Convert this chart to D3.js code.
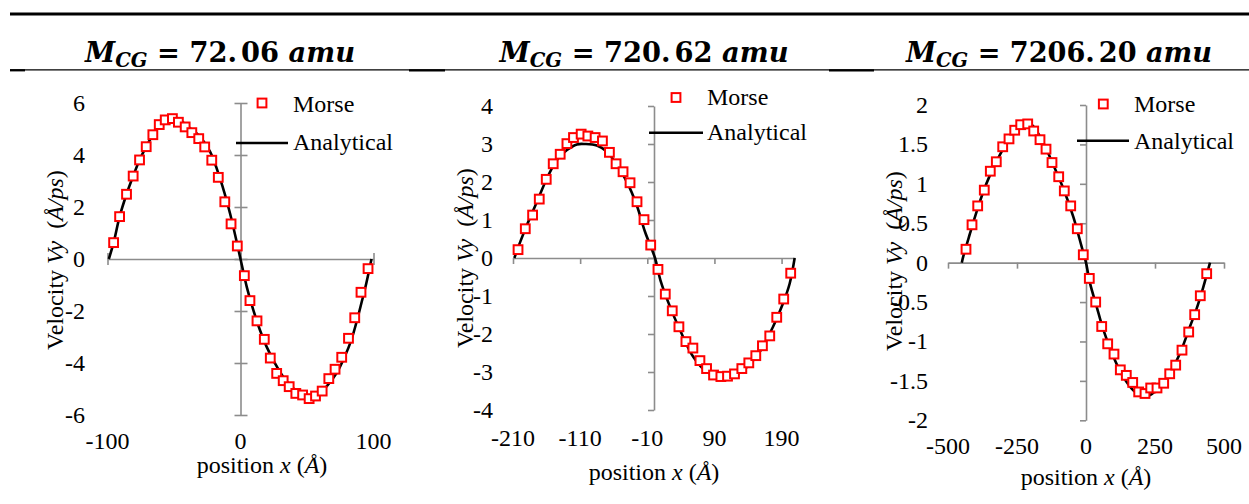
<!DOCTYPE html>
<html>
<head>
<meta charset="utf-8">
<script src="https://cdn.jsdelivr.net/npm/d3@7"></script>
<style>
  body { margin: 0; background: #fff; }
  svg { display: block; }
</style>
</head>
<body>
<svg id="chart" width="1249" height="504"></svg>
<script>
// ---- Panel titles (coarse-grained mass) ----
const massValues = ["72.06", "720.62", "7206.20"];

// ---- Panel 1: M_CG = 72.06 amu ----
const morseX1 = [-95.4,-90.9,-85.7,-80.7,-75.9,-70.9,-65.9,-61.1,-56.6,-51.2,-46.7,-41.6,-36.6,-31.4,-26.9,-21.6,-16.7,-11.8,-7.1,-2.4,2.9,7.1,12.4,17.9,22.4,27.2,32.1,36.6,41.6,46.7,51.6,56.4,61.4,66.4,71.1,76.1,81.2,85.9,90.6,95.9];
const morseY1 = [0.63,1.63,2.49,3.19,3.81,4.32,4.78,5.17,5.35,5.40,5.26,5.08,4.86,4.63,4.31,3.80,3.14,2.20,1.35,0.50,-0.64,-1.60,-2.38,-3.09,-3.81,-4.40,-4.68,-4.91,-5.17,-5.23,-5.37,-5.27,-5.08,-4.60,-4.24,-3.78,-3.05,-2.26,-1.28,-0.37];
const analyticX1 = [-99,-95.4,-90.9,-85.7,-80.7,-75.9,-70.9,-65.9,-61.1,-56.6,-51.2,-47.9,-37.9,-30.4,-22.9,-15.4,-7.9,0,4.7,9.6,14.6,19.6,25.9,32.1,39.6,47.1,52.1,57.1,64.6,72.1,78.3,83.3,88.3,92.1,94.6,98.5];
const analyticY1 = [0,0.63,1.63,2.49,3.19,3.81,4.32,4.78,5.17,5.35,5.40,5.41,5.03,4.70,4.13,3.10,1.76,0,-1.07,-1.96,-2.73,-3.37,-4.01,-4.53,-4.97,-5.23,-5.32,-5.23,-4.91,-4.40,-3.76,-3.12,-2.22,-1.45,-0.93,0];
const xTicks1 = [-100, 0, 100];
const xTickLabels1 = ["-100", "0", "100"];
const yTicks1 = [-6, -4, -2, 0, 2, 4, 6];
const yTickLabels1 = ["-6", "-4", "-2", "0", "2", "4", "6"];

// ---- Panel 2: M_CG = 720.62 amu ----
const morseX2 = [-202.5,-191.7,-180.8,-170.9,-160.5,-150.1,-139.7,-129.7,-119.9,-108.5,-98.5,-87.7,-76.8,-66.4,-56.5,-46.1,-35.7,-25.3,-14.9,-4.9,5.9,16.8,27.2,37.1,47.5,57.9,68.4,78.3,88.7,99.6,109.5,119.9,130.8,141.2,151.6,161.5,172.4,182.8,193.2,203.6];
const morseY2 = [0.22,0.77,1.13,1.55,2.07,2.48,2.73,3.01,3.17,3.26,3.21,3.17,3.08,2.78,2.48,2.27,1.98,1.48,1.01,0.34,-0.30,-0.95,-1.39,-1.81,-2.20,-2.37,-2.70,-2.91,-3.08,-3.12,-3.11,-3.05,-2.91,-2.76,-2.57,-2.31,-2.05,-1.56,-1.08,-0.40];
const analyticX2 = [-208,-199.1,-189.2,-174.3,-159.4,-144.6,-129.7,-114.9,-102.5,-85.1,-70.3,-55.4,-40.6,-25.7,-13.4,1.5,9.5,23.8,38.6,58.4,78.3,98.1,117.9,137.7,157.5,177.3,192.2,202.1,209.5];
const analyticY2 = [0,0.43,0.87,1.48,2.10,2.58,2.84,2.99,3.0,2.96,2.80,2.45,2.01,1.39,0.69,0,-0.58,-1.28,-1.89,-2.60,-2.99,-3.12,-3.10,-2.88,-2.47,-1.81,-1.19,-0.67,0];
const xTicks2 = [-210, -110, -10, 90, 190];
const xTickLabels2 = ["-210", "-110", "-10", "90", "190"];
const yTicks2 = [-4, -3, -2, -1, 0, 1, 2, 3, 4];
const yTickLabels2 = ["-4", "-3", "-2", "-1", "0", "1", "2", "3", "4"];

// ---- Panel 3: M_CG = 7206.20 amu ----
const morseX3 = [-434.8,-413.0,-392.4,-368.5,-346.7,-325.0,-301.8,-279.0,-258.3,-236.6,-211.2,-189.5,-166.7,-144.9,-123.2,-98.9,-78.6,-55.4,-31.5,-9.8,12.0,35.1,56.9,78.6,101.4,124.3,146.0,169.2,190.9,213.8,234.4,257.2,281.5,303.3,325.0,347.8,372.1,393.8,414.1,437.3];
const morseY3 = [0.17,0.48,0.72,0.92,1.16,1.28,1.47,1.57,1.68,1.75,1.76,1.67,1.56,1.44,1.27,1.09,0.91,0.72,0.43,0.10,-0.20,-0.50,-0.81,-1.03,-1.16,-1.36,-1.43,-1.52,-1.64,-1.66,-1.59,-1.59,-1.53,-1.41,-1.30,-1.11,-0.88,-0.66,-0.42,-0.14];
const analyticX3 = [-450,-444.6,-420.3,-396.0,-372.1,-347.8,-311.6,-275.4,-239.1,-214.9,-190.7,-154.5,-118.3,-82.1,-45.9,-15.6,0,14.5,38.8,62.7,98.9,135.1,171.4,207.6,231.9,268.1,304.3,340.6,376.8,401.1,425.0,449.3];
const analyticY3 = [0,0.08,0.37,0.65,0.90,1.11,1.37,1.58,1.73,1.79,1.73,1.52,1.24,0.94,0.58,0.20,0,-0.26,-0.56,-0.85,-1.19,-1.45,-1.62,-1.70,-1.68,-1.57,-1.40,-1.15,-0.81,-0.58,-0.31,0];
const xTicks3 = [-500, -250, 0, 250, 500];
const xTickLabels3 = ["-500", "-250", "0", "250", "500"];
const yTicks3 = [-2, -1.5, -1, -0.5, 0, 0.5, 1, 1.5, 2];
const yTickLabels3 = ["-2", "-1.5", "-1", "-0.5", "0", "0.5", "1", "1.5", "2"];

const legendLabels = ["Morse", "Analytical"];

// ---- layout of each panel ----
const panels = [
  { mass: massValues[0], titleX: 220, titleW: 266,
    mx: morseX1, my: morseY1, ax: analyticX1, ay: analyticY1,
    xTicks: xTicks1, xLabels: xTickLabels1, yTicks: yTicks1, yLabels: yTickLabels1,
    xDomain: [-100, 100], xRange: [107.5, 373.5], yDomain: [-6, 6], yRange: [415, 103],
    crossTicks: true, yLabelRight: 85, xLabelBase: 449,
    xTitle: [262, 473], yTitle: [63, 260],
    legMarker: [262, 103], legMorseBase: 111.5, legLine: [236, 288, 143], legAnaBase: 150, legTextX: 293 },
  { mass: massValues[1], titleX: 644, titleW: 285,
    mx: morseX2, my: morseY2, ax: analyticX2, ay: analyticY2,
    xTicks: xTicks2, xLabels: xTickLabels2, yTicks: yTicks2, yLabels: yTickLabels2,
    xDomain: [-210, 210], xRange: [513, 795], yDomain: [-4, 4], yRange: [410, 106],
    crossTicks: false, yLabelRight: 493, xLabelBase: 446,
    xTitle: [654, 480], yTitle: [473, 258],
    legMarker: [676, 97.5], legMorseBase: 105, legLine: [649, 703, 132.7], legAnaBase: 140, legTextX: 707 },
  { mass: massValues[2], titleX: 1059, titleW: 302,
    mx: morseX3, my: morseY3, ax: analyticX3, ay: analyticY3,
    xTicks: xTicks3, xLabels: xTickLabels3, yTicks: yTicks3, yLabels: yTickLabels3,
    xDomain: [-500, 500], xRange: [948, 1224], yDomain: [-2, 2], yRange: [420.3, 105],
    crossTicks: false, yLabelRight: 928, xLabelBase: 454,
    xTitle: [1086, 485], yTitle: [901.5, 261],
    legMarker: [1103.3, 104], legMorseBase: 111.5, legLine: [1077, 1129, 140.7], legAnaBase: 149, legTextX: 1134 }
];

const SERIF = "Liberation Serif, Tinos, Times New Roman, serif";
const MATH = "DejaVu Serif, Liberation Serif, serif";
const svg = d3.select("#chart").attr("font-family", SERIF);
const FS = 24;
const axisColor = "#8c8c8c";
const red = "#ff0000";

function label(x, y, size, family) {
  return svg.append("text").attr("x", x).attr("y", y)
    .attr("font-family", family || SERIF).attr("font-size", size).attr("fill", "#000");
}

// ---- table rules above and below the title row ----
svg.append("line").attr("x1", 10).attr("x2", 1249).attr("y1", 14).attr("y2", 14)
  .attr("stroke", "#000").attr("stroke-width", 3.2);
svg.append("line").attr("x1", 10).attr("x2", 1249).attr("y1", 69.8).attr("y2", 69.8)
  .attr("stroke", "#000").attr("stroke-width", 1.3);
[[10, 25], [409, 445], [829, 874]].forEach(([a, b]) => {
  svg.append("line").attr("x1", a).attr("x2", b).attr("y1", 70.3).attr("y2", 70.3)
    .attr("stroke", "#000").attr("stroke-width", 2.2);
});

panels.forEach(p => {
  const x = d3.scaleLinear().domain(p.xDomain).range(p.xRange);
  const y = d3.scaleLinear().domain(p.yDomain).range(p.yRange);
  const g = svg.append("g");

  // x axis along y = 0 (tick marks only)
  const xAxis = d3.axisBottom(x).tickValues(p.xTicks).tickFormat(() => "")
    .tickSizeInner(6).tickSizeOuter(0);
  const gx = g.append("g").attr("transform", `translate(0,${y(0)})`).call(xAxis);
  gx.select(".domain").attr("stroke", axisColor).attr("stroke-width", 1.6);
  gx.selectAll(".tick line").attr("stroke", axisColor).attr("stroke-width", 1.6)
    .attr("y1", p.crossTicks ? -6 : 0);
  gx.selectAll(".tick text").remove();

  // y axis along x = 0 (tick marks only)
  const yAxis = d3.axisLeft(y).tickValues(p.yTicks).tickFormat(() => "")
    .tickSizeInner(6).tickSizeOuter(0);
  const gy = g.append("g").attr("transform", `translate(${x(0)},0)`).call(yAxis);
  gy.select(".domain").attr("stroke", axisColor).attr("stroke-width", 1.6);
  gy.selectAll(".tick line").attr("stroke", axisColor).attr("stroke-width", 1.6)
    .attr("x1", p.crossTicks ? 7 : 0);
  gy.selectAll(".tick text").remove();

  // analytical solution
  const pts = p.ax.map((v, i) => [v, p.ay[i]]);
  g.append("path").datum(pts)
    .attr("fill", "none").attr("stroke", "#000").attr("stroke-width", 2.6)
    .attr("d", d3.line().x(d => x(d[0])).y(d => y(d[1])).curve(d3.curveCatmullRom.alpha(0.5)));

  // Morse potential results
  const ms = p.mx.map((v, i) => [v, p.my[i]]);
  g.selectAll(".m").data(ms).join("rect")
    .attr("x", d => x(d[0]) - 4.4).attr("y", d => y(d[1]) - 4.4)
    .attr("width", 8.8).attr("height", 8.8)
    .attr("fill", "#fff").attr("stroke", red).attr("stroke-width", 2);

  // legend symbols
  g.append("rect").attr("x", p.legMarker[0] - 4.4).attr("y", p.legMarker[1] - 4.4)
    .attr("width", 8.8).attr("height", 8.8)
    .attr("fill", "#fff").attr("stroke", red).attr("stroke-width", 2);
  g.append("line").attr("x1", p.legLine[0]).attr("x2", p.legLine[1])
    .attr("y1", p.legLine[2]).attr("y2", p.legLine[2])
    .attr("stroke", "#000").attr("stroke-width", 2.6);

  // title: M_CG = value amu, sized to span its column
  const t = label(p.titleX, 62, 26, MATH).attr("text-anchor", "middle").attr("font-weight", "bold");
  t.append("tspan").attr("font-style", "italic").text("M");
  t.append("tspan").attr("font-style", "italic").attr("font-size", "0.72em").attr("dy", "0.24em").text("CG");
  t.append("tspan").attr("dy", "-0.173em").text(" = ");
  const parts = p.mass.split(".");
  t.append("tspan").text(parts[0] + ".");
  t.append("tspan").attr("dx", "0.15em").text(parts[1] + " ");
  t.append("tspan").attr("font-style", "italic").text("amu");
  const w = t.node().getComputedTextLength();
  if (w > 0) t.attr("font-size", 26 * p.titleW / w);

  // tick labels sit at the low edge of the plot
  p.xTicks.forEach((d, i) => {
    label(x(d), p.xLabelBase, FS).attr("text-anchor", "middle").text(p.xLabels[i]);
  });
  p.yTicks.forEach((d, i) => {
    label(p.yLabelRight, y(d) + 8, FS).attr("text-anchor", "end").text(p.yLabels[i]);
  });

  // axis titles
  const xt = label(p.xTitle[0], p.xTitle[1], FS).attr("text-anchor", "middle");
  xt.append("tspan").text("position ");
  xt.append("tspan").attr("font-style", "italic").text("x");
  xt.append("tspan").text(" (");
  xt.append("tspan").attr("font-style", "italic").text("Å");
  xt.append("tspan").text(")");

  const yt = label(0, 0, FS)
    .attr("transform", `translate(${p.yTitle[0]},${p.yTitle[1]}) rotate(-90)`)
    .attr("text-anchor", "middle");
  yt.append("tspan").text("Velocity ");
  yt.append("tspan").attr("font-style", "italic").text("Vy");
  yt.append("tspan").text("\u00a0 (");
  yt.append("tspan").attr("font-style", "italic").text("Å/ps");
  yt.append("tspan").text(")");

  // legend labels
  label(p.legTextX, p.legMorseBase, FS).text(legendLabels[0]);
  label(p.legTextX, p.legAnaBase, FS).text(legendLabels[1]);
});
</script>
</body>
</html>
